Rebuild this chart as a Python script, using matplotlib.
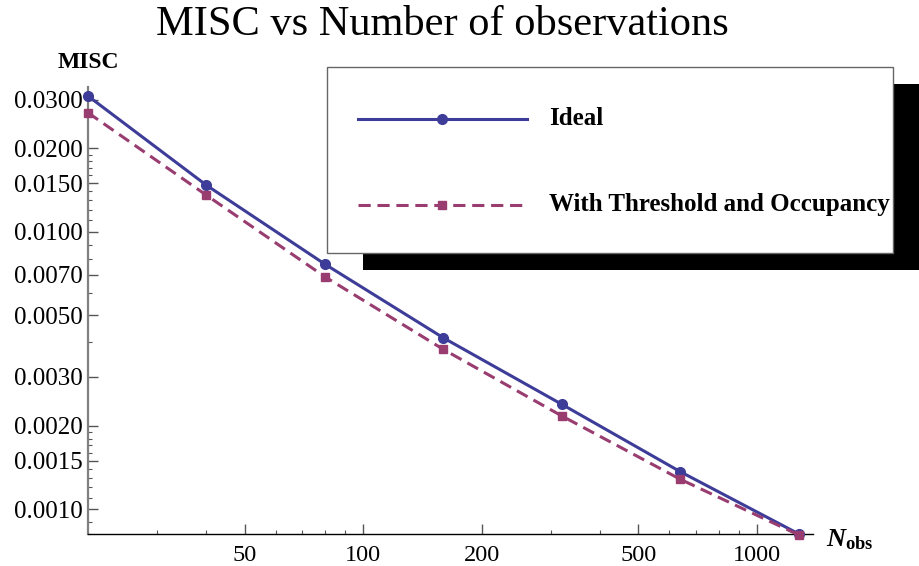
import matplotlib.pyplot as plt
from matplotlib.patches import Rectangle
from matplotlib.lines import Line2D
from matplotlib.ticker import FixedLocator, NullFormatter

plt.rcParams['font.family'] = ['Liberation Serif', 'DejaVu Serif']
plt.rcParams['mathtext.fontset'] = 'custom'
plt.rcParams['mathtext.rm'] = 'Liberation Serif:bold'
plt.rcParams['mathtext.bf'] = 'Liberation Serif:bold'
plt.rcParams['mathtext.it'] = 'Liberation Serif:italic:bold'

# MISC against number of observations
n_obs = [20, 40, 80, 160, 320, 640, 1280]
misc_ideal = [0.0309, 0.01473, 0.00765, 0.00415, 0.00239, 0.001366, 0.000815]
misc_threshold = [0.0269, 0.01356, 0.00689, 0.00377, 0.00217, 0.001283, 0.000808]

series_names = ['Ideal', 'With Threshold and Occupancy']

x_ticks = [50, 100, 200, 500, 1000]
x_minor = [30, 40, 60, 70, 80, 90, 300, 400, 600, 700, 800, 900]
y_ticks = [0.0010, 0.0015, 0.0020, 0.0030, 0.0050, 0.0070, 0.0100, 0.0150, 0.0200, 0.0300]
y_minor = [0.0009, 0.0011, 0.0012, 0.0013, 0.0014, 0.0016, 0.0017, 0.0018, 0.0019,
           0.004, 0.006, 0.008, 0.009, 0.011, 0.012, 0.013, 0.014,
           0.016, 0.017, 0.018, 0.019]

blue = '#3d3d99'
purple = '#993d71'
dash_style = (4, 2.2)

W, H = 920, 566
fig = plt.figure(figsize=(W / 100, H / 100), dpi=100)


def fx(px):
    return px / W


def fy(py):
    return 1 - py / H


ax = fig.add_axes([fx(88), fy(534), fx(813 - 88), (534 - 87) / H])
ax.set_xscale('log')
ax.set_yscale('log')
ax.set_xlim(20, 1390)
ax.set_ylim(0.000815, 0.0333)

ax.plot(n_obs, misc_ideal, color=blue, lw=2.2, marker='o', ms=7, clip_on=False, zorder=3)
ax.plot(n_obs, misc_threshold, color=purple, lw=2.2, dashes=dash_style, marker='s', ms=6,
        clip_on=False, zorder=3)

for side in ['top', 'right']:
    ax.spines[side].set_visible(False)
ax.spines['left'].set_color('#808080')
ax.spines['left'].set_linewidth(1.6)
ax.spines['bottom'].set_color('black')
ax.spines['bottom'].set_linewidth(1.0)

ax.xaxis.set_major_locator(FixedLocator(x_ticks))
ax.xaxis.set_minor_locator(FixedLocator(x_minor))
ax.set_xticklabels([str(t) for t in x_ticks])
ax.xaxis.set_minor_formatter(NullFormatter())
ax.yaxis.set_major_locator(FixedLocator(y_ticks))
ax.yaxis.set_minor_locator(FixedLocator(y_minor))
ax.set_yticklabels(['%.4f' % t for t in y_ticks])
ax.yaxis.set_minor_formatter(NullFormatter())

ax.tick_params(which='both', direction='in', color='#555555')
ax.tick_params(axis='y', labelsize=18, pad=4)
ax.tick_params(axis='x', labelsize=17.5, pad=8)
ax.tick_params(which='major', length=7, width=1.0)
ax.tick_params(which='minor', length=3, width=0.8)

fig.text(fx(88), fy(63), 'MISC', ha='center', va='center', fontsize=17, fontweight='bold')
fig.text(fx(826), fy(540), r'$\mathit{N}_{\mathbf{obs}}$', ha='left', va='center', fontsize=19)
fig.text(fx(442), fy(25), 'MISC vs Number of observations', ha='center', va='center',
         fontsize=30.5)

# legend box with a solid drop shadow
fig.patches.append(Rectangle((fx(363), fy(270)), fx(566), 186 / H, transform=fig.transFigure,
                             facecolor='black', edgecolor='none', zorder=5))
fig.patches.append(Rectangle((fx(327), fy(253)), fx(566), 186 / H, transform=fig.transFigure,
                             facecolor='white', edgecolor='#666666', lw=1.0, zorder=6))

rows = [(119, blue, 'o', 7, None), (205, purple, 's', 6, dash_style)]
for (py, col, mk, ms, dash), name in zip(rows, series_names):
    line = Line2D([fx(358), fx(442), fx(527)], [fy(py)] * 3, transform=fig.transFigure,
                  color=col, lw=2.2, marker=mk, ms=ms, markevery=[1], zorder=7)
    if dash:
        line.set_dashes(dash)
    fig.lines.append(line)
    fig.text(fx(549), fy(py), name, ha='left', va='center', fontsize=18, fontweight='bold',
             zorder=8)

fig.savefig('out.png', dpi=100)
